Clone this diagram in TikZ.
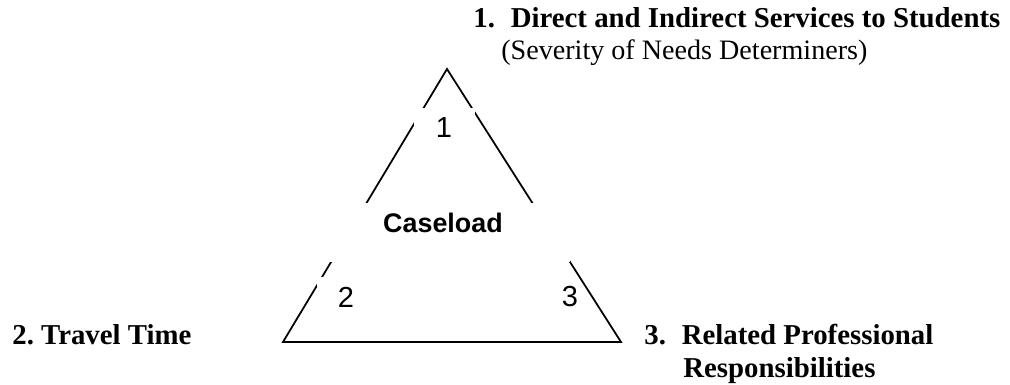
\documentclass[tikz,border=0pt]{standalone}
\usepackage{fontspec}
\setmainfont{Liberation Serif}
\setsansfont{Liberation Sans}
\frenchspacing
\tikzset{
  heading/.style={anchor=base west, inner sep=0pt, font=\fontsize{16.4}{20}\selectfont\bfseries},
  subheading/.style={anchor=base west, inner sep=0pt, font=\fontsize{16}{20}\selectfont},
  corner/.style={inner sep=0pt, font=\fontsize{16.5}{20}\selectfont\sffamily},
  blank/.style={fill=white, draw=none}
}
\begin{document}
\begin{tikzpicture}[x=0.02cm, y=-0.02cm]
  \useasboundingbox (0,0) rectangle (1010,385);

  % the triangle
  \coordinate (top) at (447,69);
  \coordinate (left) at (283,342);
  \coordinate (right) at (621,342);
  \draw[line width=1pt, line join=miter] (top) -- (left) -- (right) -- cycle;

  % white text boxes cut the sides
  \fill[blank] (414,108) rectangle (475,150);
  \fill[blank] (330,203) rectangle (570,262);
  \fill[blank] (317,277) rectangle (375,320);

  \node[corner] (one) at (444,128) {1};
  \node[corner] (two) at (346,297) {2};
  \node[corner] (three) at (570,297) {3};
  \node[inner sep=0pt, font=\fontsize{15.3}{18}\selectfont\sffamily\bfseries] (caseload) at (443,223) {Caseload};

  % the three headings
  \node[heading] (headone) at (473,28) {1.\hspace{0.55em}Direct and Indirect Services to Students};
  \node[subheading] (subone) at (501,60) {(Severity of Needs Determiners)};
  \node[heading] (headtwo) at (12,344) {2. Travel Time};
  \node[heading] (headthree) at (644,344) {3.\hspace{0.55em}Related Professional};
  \node[heading] (subthree) at (683,377) {Responsibilities};
\end{tikzpicture}
\end{document}
